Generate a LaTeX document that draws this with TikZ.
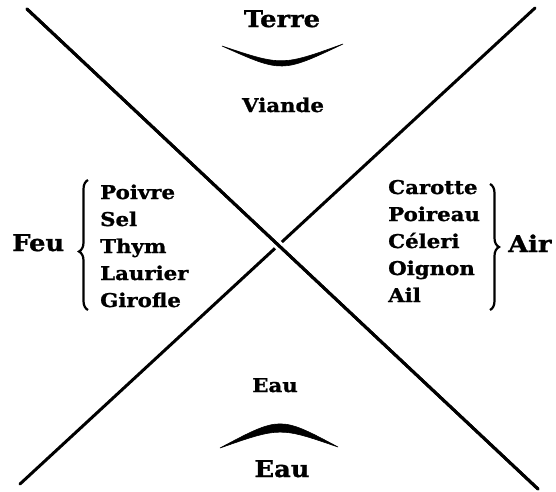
\documentclass[tikz,border=0pt]{standalone}
\usepackage{fontspec}
\setmainfont{DejaVu Serif}[FakeStretch=1.12, BoldFeatures={FakeBold=1.2}]
\usetikzlibrary{decorations.pathreplacing}
\tikzset{
  big/.style={font=\fontsize{23}{23}\selectfont\bfseries, inner sep=0pt},
  small/.style={font=\fontsize{19}{19}\selectfont\bfseries, inner sep=0pt},
  axis/.style={line width=3pt, line cap=round},
  bracestyle/.style={line width=2.2pt, decorate, decoration={brace, amplitude=9pt}},
  crescent/.style={fill=black, draw=black, line width=0.6pt}
}
\begin{document}
\begin{tikzpicture}[x=1pt,y=-1pt]
\useasboundingbox (0,0) rectangle (556,491);
\coordinate (tl) at (27,9);
\coordinate (br) at (538,489);
\coordinate (bl) at (20,484);
\coordinate (tr) at (535,8);
\draw[axis] (bl) -- (tr);
\draw[axis, preaction={draw=white, line width=9pt, line cap=butt, shorten >=40pt, shorten <=40pt}] (tl) -- (br);
\draw[axis] (tl) -- (br);

\node[big, anchor=base] (terre) at (282,27) {Terre};
\fill[crescent] (222,46) .. controls (282,73) .. (343,44) .. controls (282,66) .. (222,46) -- cycle;
\node[small, anchor=base] (viande) at (283,112) {Viande};

\node[big, anchor=base west] (feu) at (12,251) {Feu};
\node[small, anchor=base west] (l1) at (100,199) {Poivre};
\node[small, anchor=base west] (l2) at (100,226) {Sel};
\node[small, anchor=base west] (l3) at (100,253) {Thym};
\node[small, anchor=base west] (l4) at (100,280) {Laurier};
\node[small, anchor=base west] (l5) at (100,307) {Girofle};
\draw[bracestyle, decoration={aspect=0.45}] (88,310) -- (88,180);

\node[small, anchor=base west] (r1) at (388,194) {Carotte};
\node[small, anchor=base west] (r2) at (388,221) {Poireau};
\node[small, anchor=base west] (r3) at (388,248) {Céleri};
\node[small, anchor=base west] (r4) at (388,275) {Oignon};
\node[small, anchor=base west] (r5) at (388,302) {Ail};
\draw[bracestyle] (490,184) -- (490,310);
\node[big, anchor=base west] (air) at (508,252) {Air};

\node[small, anchor=base] (eau1) at (275,392) {Eau};
\fill[crescent] (220,448) .. controls (280,416) .. (338,447) .. controls (280,427) .. (220,448) -- cycle;
\node[big, anchor=base] (eau2) at (282,477) {Eau};
\end{tikzpicture}
\end{document}
